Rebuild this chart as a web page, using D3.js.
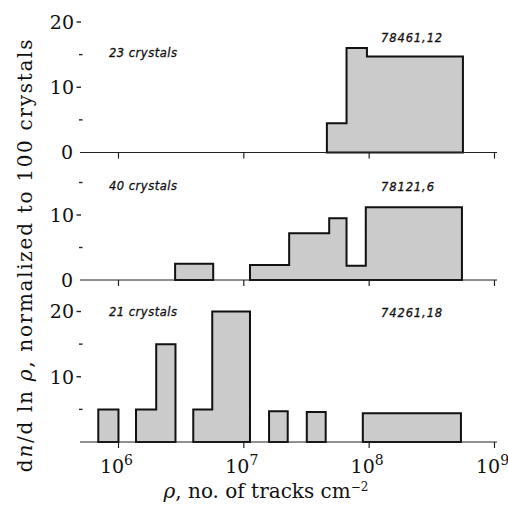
<!DOCTYPE html>
<html>
<head>
<meta charset="utf-8">
<script src="https://cdn.jsdelivr.net/npm/d3@7/dist/d3.min.js"></script>
<style>
  html, body { margin: 0; padding: 0; background: #fff; }
  svg { display: block; }
</style>
</head>
<body>
<svg id="chart" width="508" height="508"></svg>
<script>
// ---------- DATA ----------
// bins: [left edge, right edge] in tracks cm^-2, values dn/dlnρ (per 100 crystals)
const topName = "78461,12";
const topCount = "23 crystals";
const topBins = [[4.6e7, 6.6e7], [6.6e7, 9.6e7], [9.6e7, 5.6e8]];
const topValues = [4.5, 16.0, 14.7];

const midName = "78121,6";
const midCount = "40 crystals";
const midBins = [[2.83e6, 5.7e6], [1.12e7, 2.3e7], [2.3e7, 4.8e7], [4.8e7, 6.6e7], [6.6e7, 9.4e7], [9.4e7, 5.5e8]];
const midValues = [2.5, 2.3, 7.2, 9.5, 2.2, 11.2];

const botName = "74261,18";
const botCount = "21 crystals";
const botBins = [[6.9e5, 1.0e6], [1.38e6, 2.0e6], [2.0e6, 2.85e6], [3.95e6, 5.6e6], [5.6e6, 1.12e7],
                 [1.59e7, 2.24e7], [3.18e7, 4.5e7], [8.9e7, 5.4e8]];
const botValues = [5.0, 5.0, 15.0, 5.0, 20.0, 4.7, 4.6, 4.4];

const xTicks = [1e6, 1e7, 1e8, 1e9];
const xTickExp = ["6", "7", "8", "9"];
const topYTicks = [0, 10, 20];
const topYMinor = [5, 15];
const midYTicks = [0, 10];
const midYMinor = [5, 15];
const botYTicks = [10, 20];
const botYMinor = [5, 15];

const yLabel = " ln ";
const yLabelEnd = ", normalized to 100 crystals";
const xLabelEnd = ", no. of tracks cm";

// ---------- DRAW ----------
const svg = d3.select("#chart");
const serif = "'DejaVu Serif', serif";
const sans = "'DejaVu Sans', sans-serif";

const x = d3.scaleLog().domain([Math.pow(10, 5.693), Math.pow(10, 9.02)]).range([80, 497]);

const panels = [
  {bins: topBins, vals: topValues, y: d3.scaleLinear().domain([0, 20]).range([152.5, 22]),
   ticks: topYTicks, minor: topYMinor, name: topName, count: topCount, nameY: 38, countY: 53},
  {bins: midBins, vals: midValues, y: d3.scaleLinear().domain([0, 10]).range([280, 215]),
   ticks: midYTicks, minor: midYMinor, name: midName, count: midCount, nameY: 187, countY: 186},
  {bins: botBins, vals: botValues, y: d3.scaleLinear().domain([0, 20]).range([442, 311.5]),
   ticks: botYTicks, minor: botYMinor, name: botName, count: botCount, nameY: 313, countY: 312}
];

panels.forEach((p, pi) => {
  const g = svg.append("g");
  const y = p.y;
  const y0 = y(0);
  // group contiguous bins
  const groups = [];
  p.bins.forEach((b, i) => {
    const last = groups[groups.length - 1];
    if (last && Math.abs(last[last.length - 1].b[1] - b[0]) / b[0] < 1e-6) last.push({b, v: p.vals[i]});
    else groups.push([{b, v: p.vals[i]}]);
  });
  groups.forEach(gr => {
    let d = `M${x(gr[0].b[0])},${y0}`;
    gr.forEach(s => {
      d += `L${x(s.b[0])},${y(s.v)}L${x(s.b[1])},${y(s.v)}`;
    });
    d += `L${x(gr[gr.length - 1].b[1])},${y0}Z`;
    g.append("path").attr("d", d).attr("fill", "#cbcbcb")
      .attr("stroke", "#111").attr("stroke-width", 2).attr("stroke-linejoin", "miter");
  });
  // baseline axis
  g.append("line").attr("x1", 80).attr("x2", 497).attr("y1", y0).attr("y2", y0)
    .attr("stroke", "#222").attr("stroke-width", 1);
  // x ticks (downward)
  xTicks.forEach(t => {
    g.append("line").attr("x1", x(t)).attr("x2", x(t)).attr("y1", y0).attr("y2", y0 + 6)
      .attr("stroke", "#222").attr("stroke-width", 1.2);
  });
  // y ticks
  p.ticks.forEach(t => {
    g.append("text").attr("x", t === 0 ? 73 : 74).attr("y", y(t)).attr("dy", "0.36em")
      .attr("text-anchor", "end").attr("font-family", serif).attr("font-size", 19)
      .attr("fill", "#111").text(t);
    if (t !== 0) {
      g.append("line").attr("x1", 76.5).attr("x2", 81).attr("y1", y(t)).attr("y2", y(t))
        .attr("stroke", "#222").attr("stroke-width", 1.4);
    }
  });
  p.minor.forEach(t => {
    g.append("line").attr("x1", 79).attr("x2", 82.5).attr("y1", y(t)).attr("y2", y(t))
      .attr("stroke", "#222").attr("stroke-width", 1.4);
  });
  // annotations
  g.append("text").attr("x", 109).attr("y", p.countY).attr("dy", "0.35em")
    .attr("font-family", sans).attr("font-style", "italic").attr("font-size", 11.5)
    .attr("letter-spacing", 0.5).attr("stroke", "#111").attr("stroke-width", 0.3)
    .attr("fill", "#111").text(p.count);
  g.append("text").attr("x", 381).attr("y", p.nameY).attr("dy", "0.35em")
    .attr("font-family", sans).attr("font-style", "italic").attr("font-size", 11.5)
    .attr("stroke", "#111").attr("stroke-width", 0.3)
    .attr("fill", "#111").attr("letter-spacing", 0.9).text(p.name);
});

// x tick labels
const yb = panels[2].y(0);
xTicks.forEach((t, i) => {
  const tx = svg.append("text").attr("x", x(t) - 2).attr("y", yb + 31)
    .attr("text-anchor", "middle").attr("font-family", serif).attr("font-size", 19).attr("fill", "#111");
  tx.append("tspan").text("10");
  tx.append("tspan").attr("font-size", 14).attr("dy", -8).text(xTickExp[i]);
});

// x axis label
const xl = svg.append("text").attr("x", 266).attr("y", 498).attr("text-anchor", "middle")
  .attr("font-family", serif).attr("font-size", 20).attr("fill", "#111");
xl.append("tspan").attr("font-style", "italic").text("ρ");
xl.append("tspan").text(xLabelEnd);
xl.append("tspan").attr("font-size", 12).attr("dy", -7).text("−2");

// y axis label
const yl = svg.append("text").attr("transform", "translate(32,255) rotate(-90)")
  .attr("text-anchor", "middle").attr("font-family", serif).attr("font-size", 20)
  .attr("letter-spacing", 1.7).attr("fill", "#111");
yl.append("tspan").text("d");
yl.append("tspan").attr("font-style", "italic").text("n");
yl.append("tspan").text("/d" + yLabel);
yl.append("tspan").attr("font-style", "italic").text("ρ");
yl.append("tspan").text(yLabelEnd);
</script>
</body>
</html>
